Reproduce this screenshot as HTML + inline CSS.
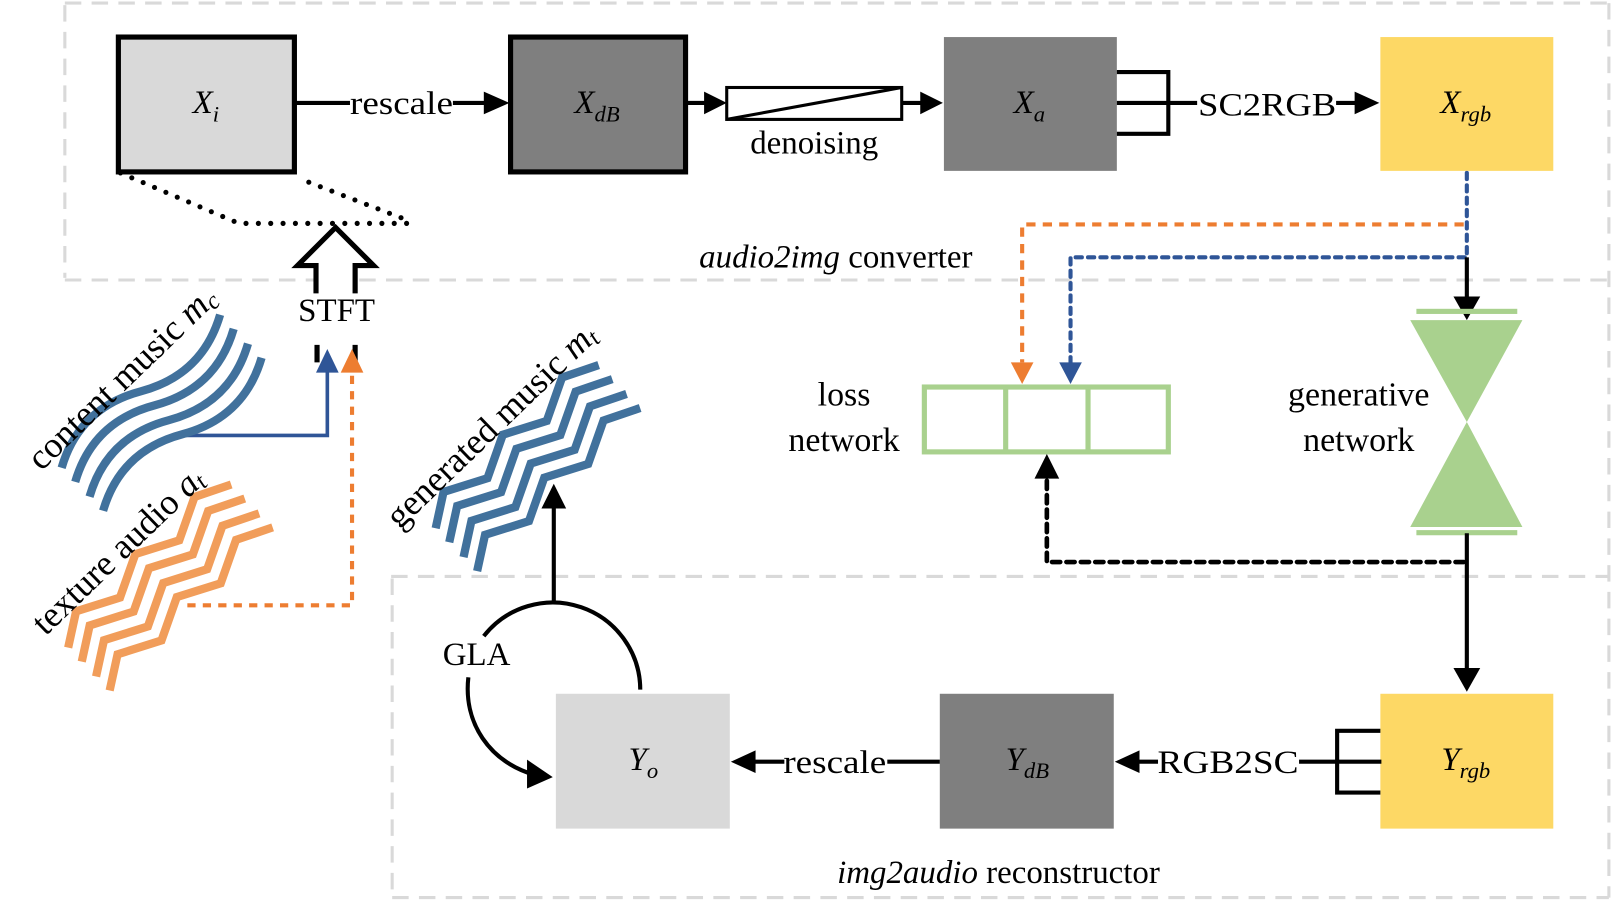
<!DOCTYPE html>
<html><head><meta charset="utf-8"><style>
html,body{margin:0;padding:0;background:#fff;}
svg{display:block;}
text{font-family:"Liberation Serif",serif;fill:#000;}
</style></head><body>
<svg width="1613" height="912" viewBox="0 0 1567 886" preserveAspectRatio="none" xmlns="http://www.w3.org/2000/svg">
<defs>
<path id="sine" d="M-107 0 C-72 -20 -36 -20 0 0 C36 20 72 20 107 0" fill="none" stroke-width="8"/>
<path id="zig" d="M-112 10 L-82 -10 L-42 10 L-2 -10 L38 10 L78 -10 L112 6" fill="none" stroke-width="8" stroke-linejoin="miter"/>
</defs>

<g fill="none" stroke="#d9d9d9" stroke-width="3" stroke-dasharray="16,10">
<path d="M63 3 H1563"/>
<path d="M63 5 V270"/>
<path d="M63 272 H1563"/>
<path d="M1563 3 V872"/>
<path d="M380 560 H1563"/>
<path d="M381 562 V872"/>
<path d="M381 872 H1563"/>
</g>

<rect x="115" y="36" width="171" height="131" fill="#d9d9d9" stroke="#000" stroke-width="5"/>
<rect x="496" y="36" width="170" height="131" fill="#7f7f7f" stroke="#000" stroke-width="5"/>
<rect x="917" y="36" width="168" height="130" fill="#7f7f7f"/>
<rect x="1341" y="36" width="168" height="130" fill="#fdd865"/>
<text x="200" y="110" font-size="32" font-style="italic" text-anchor="middle">X<tspan font-size="22" dy="8">i</tspan></text>
<text x="580" y="110" font-size="32" font-style="italic" text-anchor="middle">X<tspan font-size="22" dy="8">dB</tspan></text>
<text x="1000" y="110" font-size="32" font-style="italic" text-anchor="middle">X<tspan font-size="22" dy="8">a</tspan></text>
<text x="1424" y="110" font-size="32" font-style="italic" text-anchor="middle">X<tspan font-size="22" dy="8">rgb</tspan></text>

<g stroke="#000" stroke-width="4" fill="none">
<path d="M286 100 H340"/>
<path d="M440 100 H472"/>
<path d="M666 100 H685"/>
<path d="M876 100 H895"/>
<path d="M1085 70 H1135 V130 H1085"/>
<path d="M1085 100 H1163"/>
<path d="M1298 100 H1318"/>
</g>
<g fill="#000">
<polygon points="470,89 495,100 470,111"/>
<polygon points="684,89 706,100 684,111"/>
<polygon points="894,89 916,100 894,111"/>
<polygon points="1316,89 1340,100 1316,111"/>
</g>
<text x="390" y="111" font-size="32" text-anchor="middle" textLength="100" lengthAdjust="spacingAndGlyphs">rescale</text>
<rect x="706" y="85" width="170" height="31" fill="#fff" stroke="#000" stroke-width="3"/>
<path d="M706 116 L876 85" stroke="#000" stroke-width="3"/>
<text x="791" y="149" font-size="32" text-anchor="middle">denoising</text>
<text x="1231" y="112" font-size="32" text-anchor="middle" textLength="134" lengthAdjust="spacingAndGlyphs">SC2RGB</text>
<text x="812" y="260" font-size="32" text-anchor="middle"><tspan font-style="italic">audio2img</tspan> converter</text>

<g fill="none" stroke="#000" stroke-width="5" stroke-linecap="round" stroke-dasharray="0,12">
<path d="M117 168 L232 217 L398 217"/>
<path d="M300 177 L396 214"/>
</g>
<path d="M307 285 V258 H289 L326 221 L363 258 H345 V285" fill="#fff" stroke="#000" stroke-width="5"/>
<text x="327" y="312" font-size="32" text-anchor="middle">STFT</text>
<path d="M308 335 V352 M345 335 V352" stroke="#000" stroke-width="5"/>

<path d="M180 423 H318 V358" fill="none" stroke="#2f5597" stroke-width="3.5"/>
<polygon points="307,362 318,339 329,362" fill="#2f5597"/>
<path d="M182 588 H342 V362" fill="none" stroke="#ed7d31" stroke-width="4" stroke-dasharray="8,7"/>
<polygon points="331,362 342,339 353,362" fill="#ed7d31"/>

<g transform="translate(157,401) rotate(-44)" stroke="#41719c">
<use href="#sine" y="-29"/><use href="#sine" y="-10"/><use href="#sine" y="10"/><use href="#sine" y="29"/>
<text x="-4" y="-40" font-size="35" text-anchor="middle" stroke="none">content music <tspan font-style="italic">m<tspan font-size="24" dy="4">c</tspan></tspan></text>
</g>
<g transform="translate(160,565) rotate(-44)" stroke="#f19d5a">
<use href="#zig" y="-29"/><use href="#zig" y="-10"/><use href="#zig" y="10"/><use href="#zig" y="29"/>
<text x="-12" y="-42" font-size="35" text-anchor="middle" stroke="none">texture audio <tspan font-style="italic">a<tspan font-size="24" dy="4">t</tspan></tspan></text>
</g>
<g transform="translate(517,449) rotate(-44)" stroke="#41719c">
<use href="#zig" y="-29"/><use href="#zig" y="-10"/><use href="#zig" y="10"/><use href="#zig" y="29"/>
<text x="-4" y="-42" font-size="35" text-anchor="middle" stroke="none">generated music <tspan font-style="italic">m<tspan font-size="24" dy="4">t</tspan></tspan></text>
</g>

<path d="M1422 218 H993 V352" fill="none" stroke="#ed7d31" stroke-width="4" stroke-dasharray="9,7"/>
<polygon points="982,352 993,373 1004,352" fill="#ed7d31"/>
<path d="M1425 168 V250 H1040 V352" fill="none" stroke="#2f5597" stroke-width="4" stroke-dasharray="6,6" stroke-linecap="round"/>
<polygon points="1029,352 1040,373 1051,352" fill="#2f5597"/>
<path d="M1425 250 V290" stroke="#000" stroke-width="4"/>
<polygon points="1412,288 1425,311 1438,288" fill="#000"/>

<rect x="1376" y="300" width="98" height="5" fill="#a9d18e"/>
<polygon points="1370,311 1479,311 1425,410 1370,512 1479,512 1425,410" fill="#a9d18e"/>
<rect x="1376" y="515" width="98" height="5" fill="#a9d18e"/>
<text x="1320" y="394" font-size="33" text-anchor="middle">generative</text>
<text x="1320" y="438" font-size="33" text-anchor="middle">network</text>

<rect x="898" y="376" width="237" height="63" fill="#fff" stroke="#a9d18e" stroke-width="5"/>
<path d="M977 376 V439 M1057 376 V439" stroke="#a9d18e" stroke-width="5"/>
<text x="820" y="394" font-size="33" text-anchor="middle">loss</text>
<text x="820" y="438" font-size="33" text-anchor="middle">network</text>

<path d="M1422 546 H1017 V462" fill="none" stroke="#000" stroke-width="4.5" stroke-dasharray="8,6" stroke-linecap="round"/>
<polygon points="1005,465 1017,441 1029,465" fill="#000"/>

<path d="M1425 518 V650" stroke="#000" stroke-width="4"/>
<polygon points="1412,649 1425,672 1438,649" fill="#000"/>

<rect x="1341" y="674" width="168" height="131" fill="#fdd865"/>
<rect x="913" y="674" width="169" height="131" fill="#7f7f7f"/>
<rect x="540" y="674" width="169" height="131" fill="#d9d9d9"/>
<text x="1424" y="748" font-size="32" font-style="italic" text-anchor="middle">Y<tspan font-size="22" dy="8">rgb</tspan></text>
<text x="998" y="748" font-size="32" font-style="italic" text-anchor="middle">Y<tspan font-size="22" dy="8">dB</tspan></text>
<text x="625" y="748" font-size="32" font-style="italic" text-anchor="middle">Y<tspan font-size="22" dy="8">o</tspan></text>
<g stroke="#000" stroke-width="4" fill="none">
<path d="M1341 710 H1299 V770 H1341"/>
<path d="M1262 740 H1342"/>
<path d="M1125 740 H1105"/>
<path d="M913 740 H862"/>
<path d="M762 740 H732"/>
</g>
<polygon points="1107,729 1083,740 1107,751" fill="#000"/>
<polygon points="734,729 710,740 734,751" fill="#000"/>
<text x="1193" y="751" font-size="32" text-anchor="middle" textLength="137" lengthAdjust="spacingAndGlyphs">RGB2SC</text>
<text x="811" y="751" font-size="32" text-anchor="middle" textLength="100" lengthAdjust="spacingAndGlyphs">rescale</text>
<text x="970" y="858" font-size="32" text-anchor="middle"><tspan font-style="italic">img2audio</tspan> reconstructor</text>

<path d="M470 618 A85 85 0 0 1 622 670" fill="none" stroke="#000" stroke-width="4"/>
<path d="M455 658 C450 702 475 740 520 753" fill="none" stroke="#000" stroke-width="4"/>
<polygon points="512,738 537,755 512,766" fill="#000"/>
<text x="463" y="646" font-size="32" text-anchor="middle">GLA</text>
<path d="M538 585 V492" stroke="#000" stroke-width="4"/>
<polygon points="526,494 538,470 550,494" fill="#000"/>
</svg>
</body></html>
